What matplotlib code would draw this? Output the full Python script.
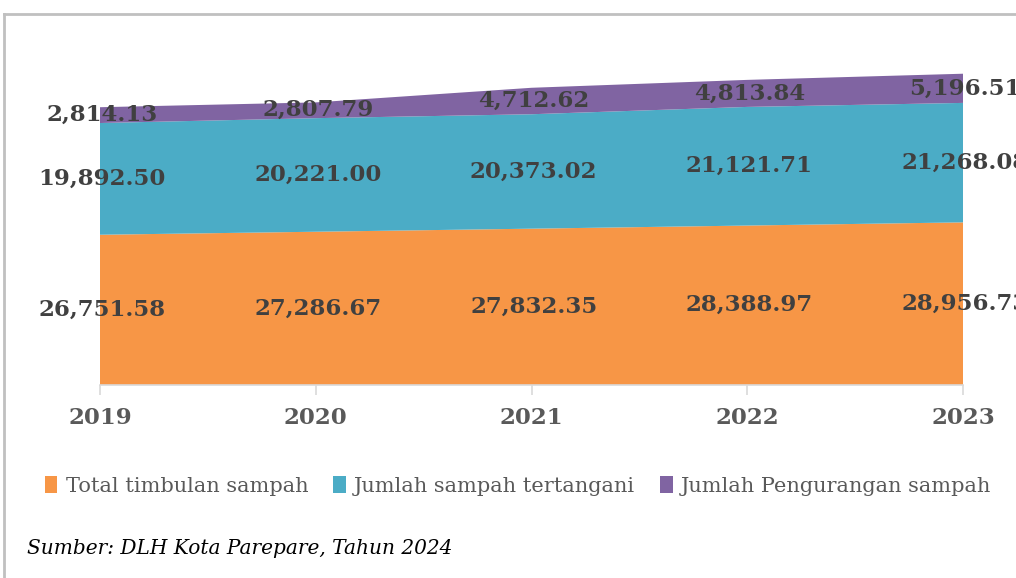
import matplotlib
matplotlib.use("Agg")
import matplotlib.pyplot as plt
from matplotlib.patches import Patch
from matplotlib.lines import Line2D

years = ["2019", "2020", "2021", "2022", "2023"]
total_timbulan = [26751.58, 27286.67, 27832.35, 28388.97, 28956.73]
sampah_tertangani = [19892.50, 20221.00, 20373.02, 21121.71, 21268.08]
pengurangan = [2814.13, 2807.79, 4712.62, 4813.84, 5196.51]
series_names = ["Total timbulan sampah", "Jumlah sampah tertangani", "Jumlah Pengurangan sampah"]
colors = ["#F79646", "#4BACC6", "#8064A2"]

W, H = 1016, 578
fig = plt.figure(figsize=(W / 100, H / 100), dpi=100)
fig.patch.set_facecolor("white")

# outer frame (left and top visible; right/bottom cut off)
fig.add_artist(Line2D([4 / W, 4 / W], [0, 1 - 14 / H], color="#c0c0c0", lw=2, transform=fig.transFigure))
fig.add_artist(Line2D([4 / W, 1.01], [1 - 14 / H, 1 - 14 / H], color="#c0c0c0", lw=2, transform=fig.transFigure))

left, right = 100 / W, 963 / W
bottom = 1 - 385 / H
top = 48 / H
ax = fig.add_axes([left, bottom, right - left, 1 - bottom - top])

x = list(range(len(years)))
ax.stackplot(x, total_timbulan, sampah_tertangani, pengurangan, colors=colors, linewidth=0)
ax.set_xlim(0, len(years) - 1)
ax.set_ylim(0, 60000)

for s in ["top", "right", "left"]:
    ax.spines[s].set_visible(False)
ax.spines["bottom"].set_color("#d9d9d9")
ax.spines["bottom"].set_linewidth(1.2)
ax.set_yticks([])
ax.set_xticks(x)
ax.set_xticklabels(years, fontsize=16.5, fontweight="bold", family="DejaVu Serif", color="#595959")
ax.tick_params(axis="x", length=7.5, width=1.2, color="#d9d9d9", pad=8)

# data labels centred in each band
for i in x:
    base = 0
    for vals in (total_timbulan, sampah_tertangani, pengurangan):
        v = vals[i]
        ax.text(i + 0.01, base + v / 2, f"{v:,.2f}", ha="center", va="center", fontsize=16.5,
                fontweight="bold", family="DejaVu Serif", color="#404040", clip_on=False)
        base += v

handles = [Patch(facecolor=c, edgecolor="none") for c in colors]
leg = fig.legend(handles, series_names, loc="center", bbox_to_anchor=(518 / W, 1 - 486 / H), ncol=3,
                 frameon=False, handlelength=0.6, handleheight=0.9, handletextpad=0.4, columnspacing=1.2,
                 prop={"family": "DejaVu Serif", "size": 15})
for t in leg.get_texts():
    t.set_color("#595959")

fig.text(27 / W, 1 - 548 / H, "Sumber: DLH Kota Parepare, Tahun 2024", ha="left", va="center",
         fontsize=14.5, style="italic", family="DejaVu Serif", color="#000000")

fig.savefig("out.png", dpi=100, facecolor="white")
